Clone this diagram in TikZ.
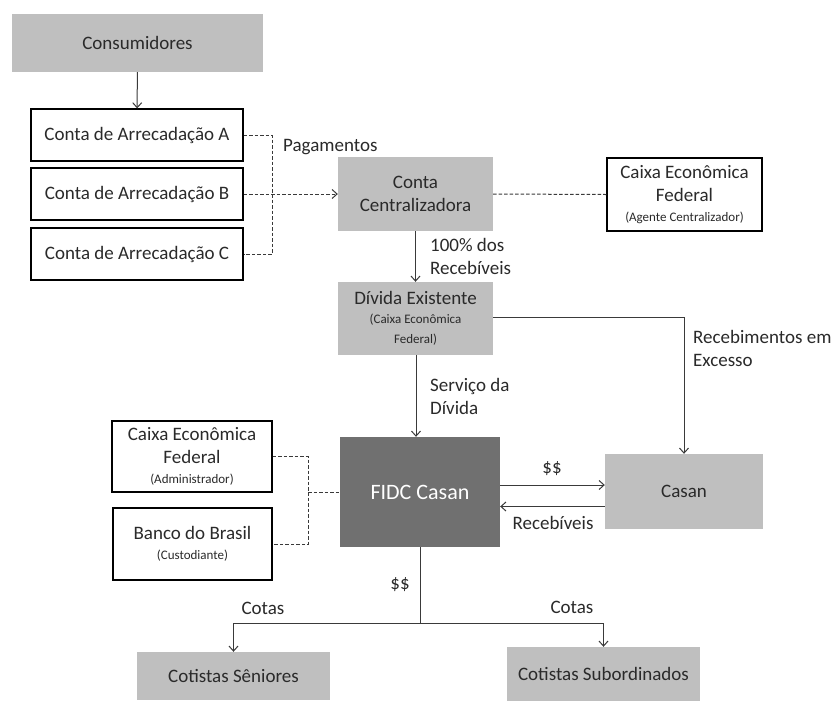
\documentclass[tikz,border=0pt]{standalone}
\usepackage{fontspec}
\setmainfont{Carlito}
\usetikzlibrary{arrows.meta,calc}
\definecolor{lg}{HTML}{BFBFBF}
\definecolor{dg}{HTML}{707070}
\definecolor{ln}{HTML}{3A3A3A}
\definecolor{tx}{HTML}{2A2A2A}
\begin{document}
\begin{tikzpicture}[x=1pt,y=-1pt,
  every node/.style={text=tx,font=\fontsize{19}{23}\selectfont,inner sep=0pt},
  gbox/.style={fill=lg,draw=none,align=center},
  wbox/.style={fill=white,draw=black,line width=1.2pt,align=center},
  conn/.style={draw=ln,line width=1pt},
  arr/.style={conn,-{Straight Barb[length=5pt,width=9pt]}},
  dsh/.style={conn,dash pattern=on 3.5pt off 2pt},
  lbl/.style={align=left,anchor=west}]
\useasboundingbox[fill=white] (0,0) rectangle (835,702);
% nodes
\node[gbox,minimum width=251pt,minimum height=58pt] (cons) at (137.5,43) {Consumidores};
\node[wbox,minimum width=212pt,minimum height=52pt] (ca) at (137,135) {Conta de Arrecadação A};
\node[wbox,minimum width=212pt,minimum height=52pt] (cb) at (137,194) {Conta de Arrecadação B};
\node[wbox,minimum width=212pt,minimum height=52pt] (cc) at (137,254) {Conta de Arrecadação C};
\node[gbox,minimum width=155pt,minimum height=74pt] (cent) at (415.5,194) {Conta\\Centralizadora};
\node[wbox,minimum width=155pt,minimum height=73pt] (agc) at (684.5,194.5) {Caixa Econômica\\Federal\\[-3pt]{\fontsize{13}{15}\selectfont(Agente Centralizador)}};
\node[gbox,minimum width=155pt,minimum height=73pt] (div) at (415.5,318.5) {Dívida Existente\\[-4pt]{\fontsize{13}{18}\selectfont(Caixa Econômica}\\[-3pt]{\fontsize{13}{18}\selectfont Federal)}};
\node[fill=dg,minimum width=160pt,minimum height=110pt,text=white,font=\fontsize{22}{26}\selectfont] (fidc) at (420,492) {FIDC Casan};
\node[gbox,minimum width=158pt,minimum height=75pt] (casan) at (684,491.5) {Casan};
\node[wbox,minimum width=160pt,minimum height=71pt] (adm) at (192,456.5) {Caixa Econômica\\Federal\\[-3pt]{\fontsize{13}{15}\selectfont(Administrador)}};
\node[wbox,minimum width=159pt,minimum height=72pt] (bb) at (192.5,544) {Banco do Brasil\\[-3pt]{\fontsize{13}{15}\selectfont(Custodiante)}};
\node[gbox,minimum width=193pt,minimum height=48pt] (sen) at (233.5,676) {Cotistas Sêniores};
\node[gbox,minimum width=193pt,minimum height=54pt] (sub) at (603.5,674) {Cotistas Subordinados};
% coordinates
\coordinate (j1) at (272,194);
\coordinate (j2) at (308,492);
\coordinate (j3) at (420,623);
% connectors
\draw[arr] (cons) -- (ca);
\draw[dsh] (ca.east) -| (j1);
\draw[dsh] (j1) |- (cc.east);
\draw[dsh,-{Straight Barb[length=5pt,width=9pt]}] (cb.east) -- (cent.west);
\draw[dsh] (cent.east) -- (agc.west);
\draw[arr] (cent) -- (div);
\draw[arr] ([yshift=1.5pt]div.east) -| (casan.north);
\draw[arr] (div.south -| 416,0) -- (fidc.north -| 416,0);
\draw[arr] ([yshift=7pt]fidc.east) -- ([yshift=7pt]fidc.east -| casan.west);
\draw[arr] ([yshift=-15pt]casan.west) -- ([yshift=-15pt]casan.west -| fidc.east);
\draw[dsh] (adm.east) -| (j2);
\draw[dsh] (j2) |- (bb.east);
\draw[dsh] (j2) -- (fidc.west);
\draw[conn] (fidc.south) -- (j3);
\draw[arr] (j3) -| (sen.north);
\draw[arr] (j3) -| (sub.north);
% labels
\node[anchor=west] (lpag) at (283,147) {Pagamentos};
\node[lbl] (l100) at (430,256) {100\% dos\\Recebíveis};
\node[lbl] (lserv) at (430,396) {Serviço da\\Dívida};
\node[lbl] (lexc) at (693,348) {Recebimentos em\\Excesso};
\node (ld1) at (552,469) {\$\$};
\node (lrec) at (553,523) {Recebíveis};
\node (ld2) at (400,585) {\$\$};
\node (lc1) at (263,608) {Cotas};
\node (lc2) at (572,607) {Cotas};
\end{tikzpicture}
\end{document}
